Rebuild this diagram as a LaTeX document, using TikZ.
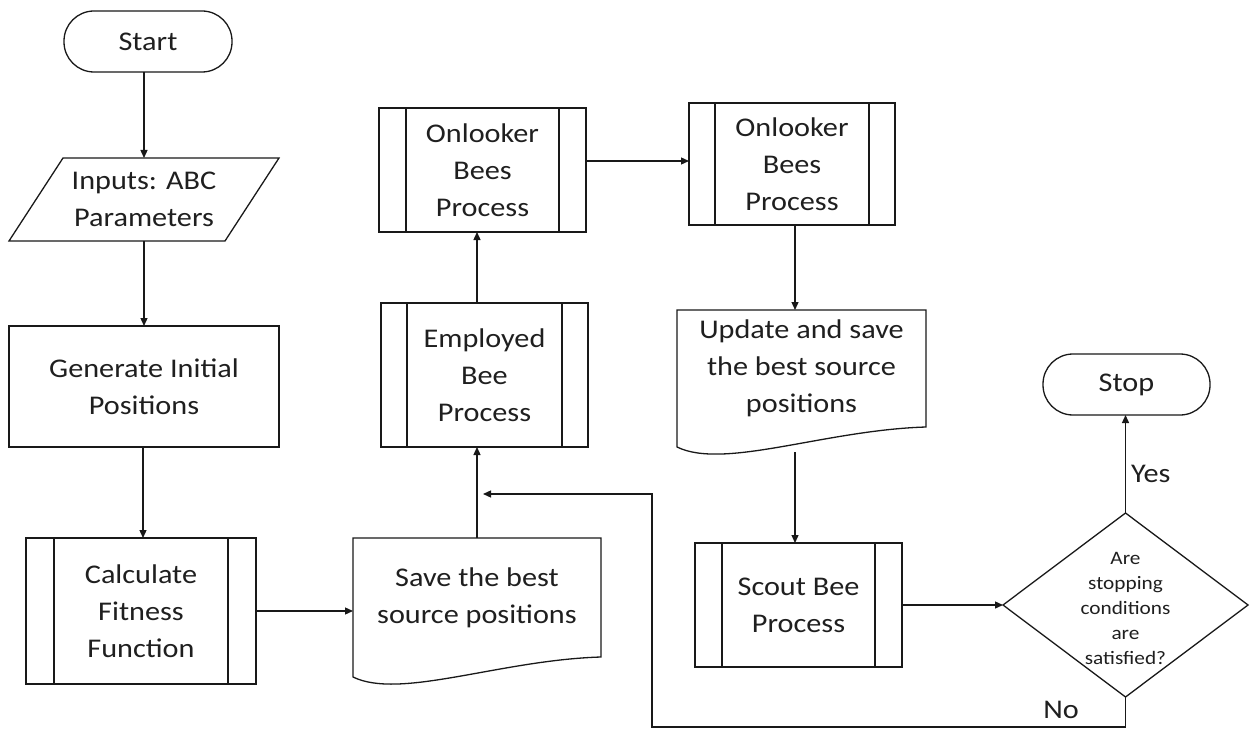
\documentclass[tikz,border=0pt]{standalone}
\usepackage{fontspec}
\setmainfont[FakeStretch=1.12]{Carlito}
\usetikzlibrary{calc,arrows.meta}
\begin{document}
\begin{tikzpicture}[x=1pt,y=-1pt,
  every node/.style={inner sep=0pt, outer sep=0pt, text=black!88, align=center, font=\fontsize{27}{37}\selectfont},
  ln/.style={line width=1.3pt, draw=black!90},
  arr/.style={ln, -{Triangle[length=8pt,width=7pt]}},
  term/.style={rectangle, ln, rounded corners=30pt},
  box/.style={rectangle, ln},
  ghost/.style={rectangle, draw=none},
  small/.style={font=\fontsize{19}{25}\selectfont}
]
\useasboundingbox (0,0) rectangle (1250,730);

% nodes
\node[term, minimum width=168pt, minimum height=61pt] (start) at (148,41.5) {Start};
\node[ghost, minimum width=270pt, minimum height=83pt] (inp) at (144,199.5) {Inputs: ABC\\Parameters};
\node[box, minimum width=270pt, minimum height=121pt] (gen) at (144,386.5) {Generate Initial\\Positions};
\node[box, minimum width=230pt, minimum height=146pt] (calc) at (141,611) {Calculate\\Fitness\\Function};
\node[ghost, minimum width=248pt, minimum height=119pt] (save) at (477,597.5) {Save the best\\source positions};
\node[box, minimum width=207pt, minimum height=144pt] (emp) at (484.5,375) {Employed\\Bee\\Process};
\node[box, minimum width=207pt, minimum height=124pt] (onl1) at (482.5,170) {Onlooker\\Bees\\Process};
\node[box, minimum width=206pt, minimum height=122pt] (onl2) at (792,164) {Onlooker\\Bees\\Process};
\node[ghost, minimum width=249pt, minimum height=117pt] (upd) at (801.5,368.5) {Update and save\\the best source\\positions};
\node[box, minimum width=207pt, minimum height=124pt] (scout) at (798.5,605) {Scout Bee\\Process};
\node[ghost, minimum width=245pt, minimum height=184pt, small] (dia) at (1125.5,608) {Are\\stopping\\conditions\\are\\satisfied?};
\node[term, minimum width=167pt, minimum height=61pt] (stop) at (1126.5,384.5) {Stop};
\node[anchor=base west] (yes) at (1131,482) {Yes};
\node[anchor=base] (no) at (1061,718) {No};

\coordinate (cx) at (795,0);
\coordinate (c1) at (652,727);
\coordinate (nl) at (483,494);

% custom shapes
\draw[ln] ([xshift=54pt]inp.north west) -- (inp.north east) -- ([xshift=-54pt]inp.south east) -- (inp.south west) -- cycle;
\foreach \n in {save,upd}{
  \draw[ln] (\n.north west) -- (\n.north east) -- (\n.south east)
    .. controls ($(\n.south east)+(-101,3)$) and ($(\n.south west)+(47,43)$) .. ($(\n.south west)+(0,20)$) -- cycle;
}
\draw[ln] ([yshift=3pt]dia.north) -- ([yshift=3pt]dia.east) -- ([yshift=3pt]dia.south) -- ([yshift=3pt]dia.west) -- cycle;
\foreach \n/\o in {calc/28,emp/26,onl1/27,onl2/26,scout/27}{
  \draw[ln] ([xshift=\o pt]\n.north west) -- ([xshift=\o pt]\n.south west);
  \draw[ln] ([xshift=-\o pt]\n.north east) -- ([xshift=-\o pt]\n.south east);
}

% connectors
\draw[arr] (inp.north |- start.south) -- (inp.north);
\draw[arr] (inp.south) -- (gen.north);
\draw[arr] ([xshift=-1pt]gen.south) -- ([xshift=-1pt]gen.south |- calc.north);
\draw[arr] (calc.east) -- (calc.east -| save.west);
\draw[arr] (save.north) -- (save.north |- emp.south);
\draw[arr] (save.north |- emp.north) -- (save.north |- onl1.south);
\draw[arr] ([yshift=9pt]onl1.east) -- ([yshift=9pt]onl1.east -| onl2.west);
\draw[arr] (onl2.south -| cx) -- (upd.north -| cx);
\draw[arr] ($(upd.south -| cx)+(0,25)$) -- (scout.north -| cx);
\draw[arr] (scout.east) -- ([yshift=3pt]dia.west);
\draw[arr] ([yshift=3pt]dia.north) -- (dia.north |- stop.south);
\draw[arr] ([yshift=3pt]dia.south) |- (c1) |- (nl);
\end{tikzpicture}
\end{document}
